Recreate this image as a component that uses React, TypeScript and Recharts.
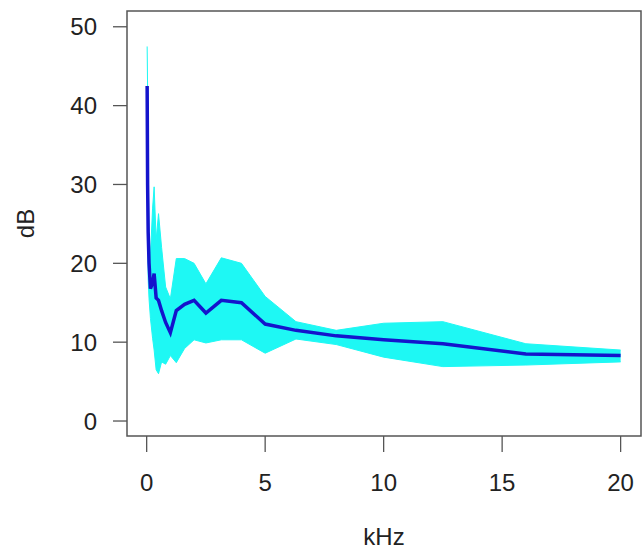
import React from "react"
import { ComposedChart, Area, Line, XAxis, YAxis, ReferenceArea } from "recharts"

// third-octave band centres (kHz)
const freqs = [0.02, 0.04, 0.063, 0.1, 0.16, 0.25, 0.315, 0.4, 0.5, 0.63, 0.8, 1, 1.25, 1.6, 2, 2.5, 3.15, 4, 5, 6.3, 8, 10, 12.5, 16, 20]
const meanDb = [42.5, 30, 24, 20, 16.8, 17.5, 18.7, 15.6, 15.3, 14.0, 12.5, 11.2, 14.0, 14.8, 15.3, 13.7, 15.3, 15.0, 12.3, 11.5, 10.8, 10.3, 9.8, 8.5, 8.3]
const upperDb = [47.5, 42, 32, 23, 21, 27, 29.7, 23, 26.3, 22, 17, 15.5, 20.6, 20.6, 20.0, 17.4, 20.7, 20.0, 15.8, 12.6, 11.5, 12.4, 12.6, 9.8, 9.0]
const lowerDb = [40, 25, 18, 15.5, 13, 10.5, 9.0, 6.5, 6.0, 7.5, 7.2, 8.3, 7.4, 9.2, 10.3, 9.9, 10.3, 10.3, 8.6, 10.4, 9.7, 8.1, 6.9, 7.1, 7.5]

const xTicks = [0, 5, 10, 15, 20]
const yTicks = [0, 10, 20, 30, 40, 50]

const data = freqs.map((f, i) => ({
  khz: f,
  mean: meanDb[i],
  band: [lowerDb[i], upperDb[i]],
}))

const font = "'Liberation Sans', Arial, Helvetica, sans-serif"
const textColor = "#222222"
const axisColor = "#555555"

export default function App() {
  return (
    <div style={{ position: "absolute", left: 0, top: 0, background: "#fff" }}>
      <ComposedChart width={644} height={551} data={data} margin={{ top: 11, right: 3, bottom: 0, left: 0 }}>
        <XAxis
          dataKey="khz"
          type="number"
          domain={[-0.83, 20.86]}
          ticks={xTicks}
          interval={0}
          allowDataOverflow
          axisLine={false}
          tickLine={{ stroke: axisColor, strokeWidth: 1.3 }}
          tickSize={16}
          tickMargin={22}
          height={115}
          tick={{ fill: textColor, fontSize: 24, fontFamily: font }}
          label={{
            content: ({ viewBox }: any) => (
              <text
                x={viewBox.x + viewBox.width / 2}
                y={545}
                textAnchor="middle"
                fill={textColor}
                fontSize={24}
                fontFamily={font}
              >
                kHz
              </text>
            ),
          }}
        />
        <YAxis
          type="number"
          domain={[-1.9, 52]}
          ticks={yTicks}
          interval={0}
          allowDataOverflow
          axisLine={false}
          tickLine={{ stroke: axisColor, strokeWidth: 1.3 }}
          tickSize={14}
          tickMargin={16}
          width={127}
          tick={{ fill: textColor, fontSize: 24, fontFamily: font }}
          label={{
            content: ({ viewBox }: any) => {
              const cx = 25
              const cy = viewBox.y + viewBox.height / 2
              return (
                <text
                  x={cx}
                  y={cy}
                  transform={`rotate(-90, ${cx}, ${cy})`}
                  textAnchor="middle"
                  dominantBaseline="central"
                  fill={textColor}
                  fontSize={24}
                  fontFamily={font}
                >
                  dB
                </text>
              )
            },
          }}
        />
        <Area
          type="linear"
          dataKey="band"
          stroke="#1ef8f4"
          strokeWidth={1}
          fill="#1ef8f4"
          fillOpacity={1}
          isAnimationActive={false}
          activeDot={false}
        />
        <Line
          type="linear"
          dataKey="mean"
          stroke="#1414cc"
          strokeWidth={3.5}
          dot={false}
          activeDot={false}
          isAnimationActive={false}
        />
        <ReferenceArea
          x1={-0.83}
          x2={20.86}
          y1={-1.9}
          y2={52}
          fill="none"
          stroke={axisColor}
          strokeWidth={1.5}
          ifOverflow="visible"
        />
      </ComposedChart>
    </div>
  )
}
